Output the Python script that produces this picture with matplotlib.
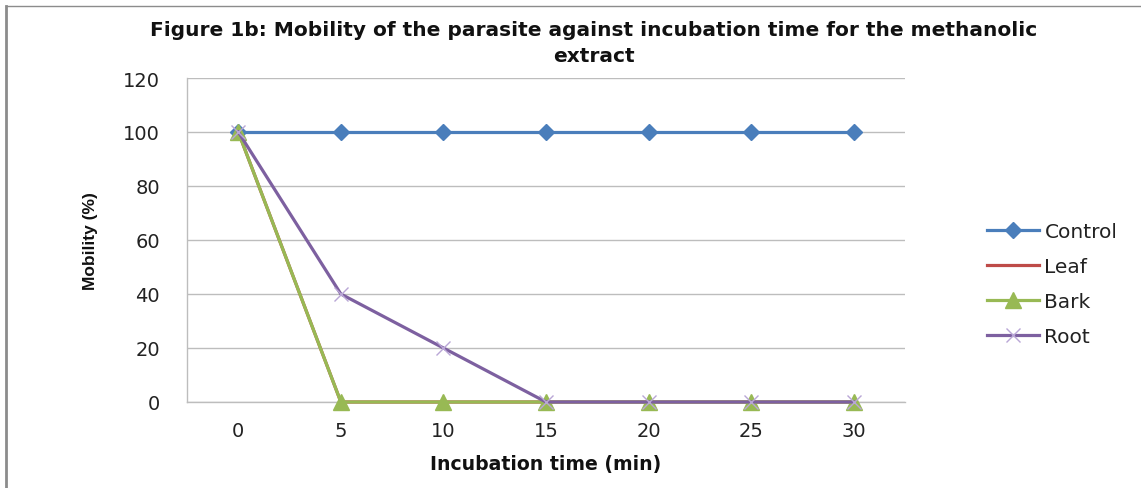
import matplotlib
matplotlib.use("Agg")
import matplotlib.pyplot as plt
from matplotlib.lines import Line2D

times = ["0", "5", "10", "15", "20", "25", "30"]
control = [100, 100, 100, 100, 100, 100, 100]
leaf = [100, 0, 0, 0, 0, 0, 0]
bark = [100, 0, 0, 0, 0, 0, 0]
root = [100, 40, 20, 0, 0, 0, 0]
yticks = [0, 20, 40, 60, 80, 100, 120]

FONT = "DejaVu Sans"
fig = plt.figure(figsize=(11.41, 4.89), dpi=100)
W, H = 1141, 489
ax = fig.add_axes([187 / W, 1 - 403 / H, (905 - 187) / W, (403 - 79) / H])

x = list(range(len(times)))
ax.plot(x, control, color="#4A7EBB", lw=2.3, marker="D", ms=8, label="Control", zorder=3, clip_on=False)
ax.plot(x, leaf, color="#BE4B48", lw=2.3, label="Leaf", zorder=3, clip_on=False)
ax.plot(x, bark, color="#98B954", lw=2.3, marker="^", ms=12, label="Bark", zorder=4, clip_on=False)
ax.plot(x, root, color="#7D60A0", lw=2.3, marker="x", ms=10, mec="#B9A6D6", mew=1.0,
        label="Root", zorder=5, clip_on=False)

ax.set_xlim(-0.5, len(times) - 0.5)
ax.set_ylim(0, 120)
ax.set_yticks(yticks)
ax.set_xticks(x)
ax.set_xticklabels(times)
ax.yaxis.grid(True, color="#BDBDBD", lw=1.0)
ax.set_axisbelow(True)
for s in ["top", "right"]:
    ax.spines[s].set_visible(False)
for s in ["left", "bottom"]:
    ax.spines[s].set_color("#BDBDBD")
    ax.spines[s].set_linewidth(1.0)
ax.tick_params(axis="both", length=0, labelsize=14, colors="#222222")
ax.tick_params(axis="y", pad=19.5)
ax.tick_params(axis="x", pad=14)
for lab in ax.get_xticklabels() + ax.get_yticklabels():
    lab.set_family(FONT)

ax.set_xlabel("Incubation time (min)", fontsize=13.6, fontweight="bold", family=FONT, labelpad=10, color="#111111")
ax.set_ylabel("Mobility (%)", fontsize=12.5, fontweight="bold", family="Liberation Sans",
              labelpad=18, color="#111111")

fig.text(594 / W, 1 - 30 / H, "Figure 1b: Mobility of the parasite against incubation time for the methanolic",
         ha="center", va="center", fontsize=14.5, fontweight="bold", family=FONT, color="#111111")
fig.text(594 / W, 1 - 57 / H, "extract", ha="center", va="center", fontsize=14.5,
         fontweight="bold", family=FONT, color="#111111")

leg = ax.legend(loc="center left", bbox_to_anchor=(1.089, 0.365), frameon=False,
                prop={"family": FONT, "size": 14.5}, handlelength=2.6, labelspacing=0.8,
                handletextpad=0.25)
for t in leg.get_texts():
    t.set_color("#222222")

# figure border (top and left)
fig.add_artist(Line2D([6 / W, 6 / W], [0, 1 - 7 / H], color="#8C8C8C", lw=2.0, transform=fig.transFigure))
fig.add_artist(Line2D([6 / W, 1], [1 - 7 / H, 1 - 7 / H], color="#8C8C8C", lw=1.0, transform=fig.transFigure))

fig.savefig("out.png", dpi=100)
